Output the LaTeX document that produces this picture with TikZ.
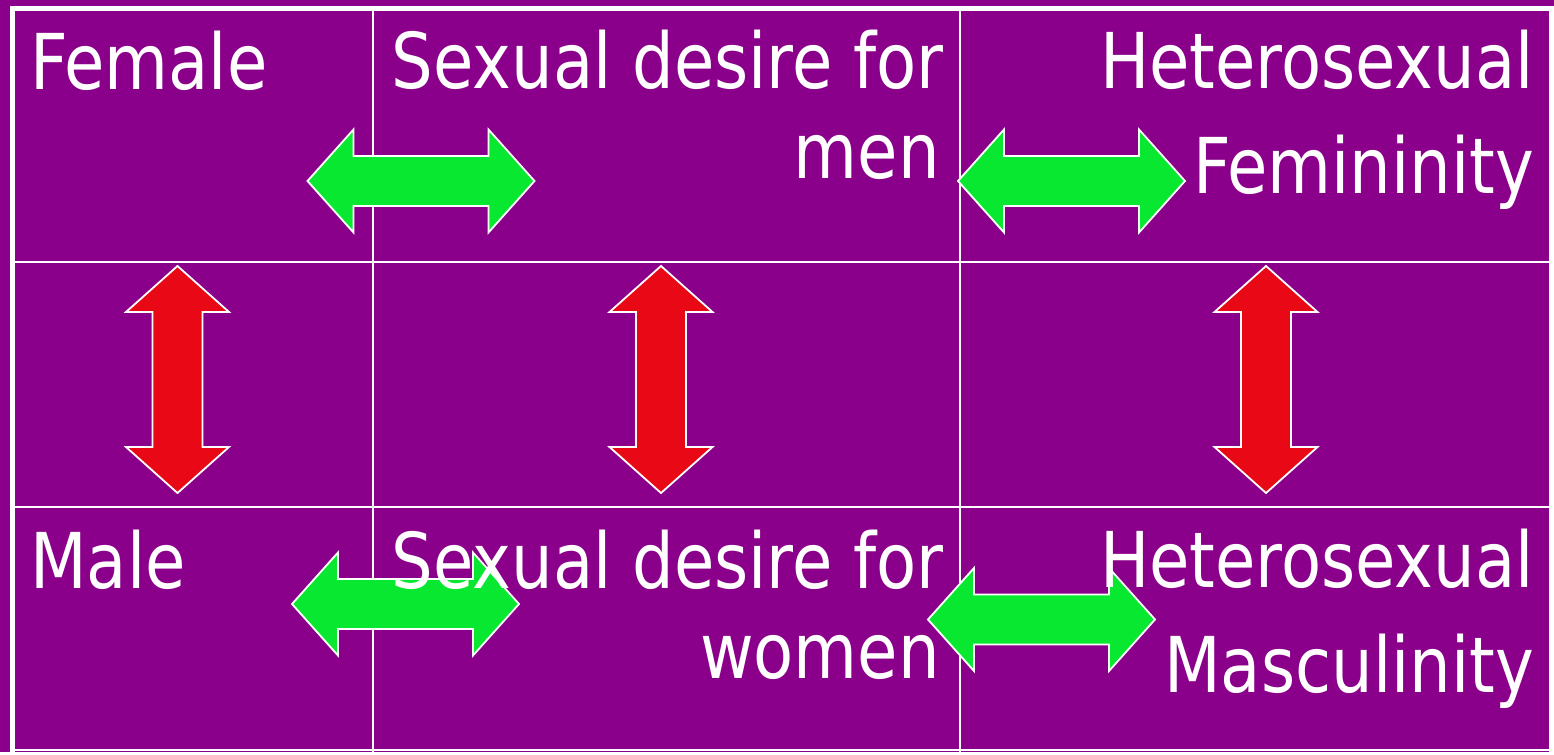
\documentclass[tikz,border=0pt]{standalone}
\usepackage{fontspec}
\setmainfont[FakeStretch=0.852]{DejaVu Sans}
\usetikzlibrary{positioning}

\definecolor{slidepurple}{RGB}{139,0,139}
\definecolor{arrowgreen}{RGB}{8,232,48}
\definecolor{arrowred}{RGB}{232,8,22}

\begin{document}
\begin{tikzpicture}[x=1pt, y=-1pt]
  \tikzstyle{celltext} = [text=white, inner sep=0pt, font=\fontsize{77}{90}\selectfont]
  \tikzstyle{gridline} = [draw=white, line width=2pt]
  \tikzset{dblarrow/.pic={
    \draw[pic actions, draw=white, line width=1.8pt]
      (-113.5,0) -- (-67.5,-51.5) -- (-67.5,-25) -- (67.5,-25) -- (67.5,-51.5)
      -- (113.5,0) -- (67.5,51.5) -- (67.5,25) -- (-67.5,25) -- (-67.5,51.5) -- cycle;}}

  % background and frame
  \fill[slidepurple] (0,0) rectangle (1554,752);
  \draw[white, line width=5pt] (12,752) -- (12,9) -- (1551,9) -- (1551,752);
  \draw[gridline] (12,750) -- (1551,750);

  % table lines
  \draw[gridline] (373,9) -- (373,752);
  \draw[gridline] (960,9) -- (960,752);
  \draw[gridline] (12,262) -- (1551,262);
  \draw[gridline] (12,507) -- (1551,507);

  % horizontal arrows
  \pic[fill=arrowgreen] at (421,181) {dblarrow};
  \pic[fill=arrowgreen] at (1071.5,181) {dblarrow};
  \pic[fill=arrowgreen] at (405.5,604) {dblarrow};
  \pic[fill=arrowgreen] at (1041.5,619.5) {dblarrow};

  % vertical arrows
  \pic[fill=arrowred, rotate=90] at (177.5,379.5) {dblarrow};
  \pic[fill=arrowred, rotate=90] at (661,379.5) {dblarrow};
  \pic[fill=arrowred, rotate=90] at (1266,379.5) {dblarrow};

  % top row
  \node[celltext, anchor=base west] (female) at (30,89) {Female};
  \node[celltext, anchor=base east] (desire1) at (944,88) {Sexual desire for};
  \node[celltext, anchor=base east] (men) at (940,178) {men};
  \node[celltext, anchor=base east] (hetero1) at (1534,88) {Heterosexual};
  \node[celltext, anchor=base east] (fem) at (1534,193) {Femininity};

  % bottom row
  \node[celltext, anchor=base west] (male) at (30,588) {Male};
  \node[celltext, anchor=base east] (desire2) at (944,588) {Sexual desire for};
  \node[celltext, anchor=base east] (women) at (940,678) {women};
  \node[celltext, anchor=base east] (hetero2) at (1534,587) {Heterosexual};
  \node[celltext, anchor=base east] (masc) at (1534,692) {Masculinity};
\end{tikzpicture}
\end{document}
